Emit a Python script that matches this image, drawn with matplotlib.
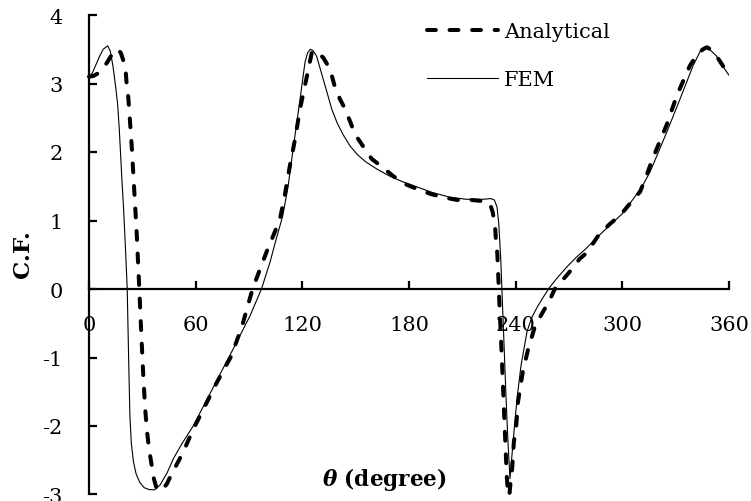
import matplotlib
matplotlib.use("Agg")
import matplotlib.pyplot as plt

# ---- data ----
ana_x = [0, 2.5, 5.2, 8, 10.5, 13, 14.6, 16.5, 18, 19.5, 20.6, 21.2, 22.1, 24, 26.8, 28.3,
         29.5, 30.6, 31.6, 32.6, 33.8, 35.3, 36.5, 38, 39.5, 41, 43.7, 46.5, 50.6, 54, 58.6,
         65, 72, 80, 86, 92, 96.2, 100, 104, 107.4, 110, 113, 116, 118.7, 122.6, 125.4, 127,
         128.5, 131.7, 135.6, 138.4, 141.2, 144, 146.8, 149.6, 154, 159, 165, 171, 178,
         184.5, 191.8, 199, 207, 215, 222.8, 225.5, 227.1, 228.4, 228.9, 229.7, 231, 232.2,
         233.4, 234.2, 235, 235.8, 236.5, 237.2, 238, 239, 240.2, 241.3, 244, 247, 250.9,
         255, 259, 262, 266, 270, 276, 280, 287, 293, 299, 305, 310, 313.5, 317, 321, 325,
         330.6, 338, 342, 345.4, 347.6, 350, 353, 357, 360]
ana_y = [3.10, 3.11, 3.15, 3.22, 3.32, 3.43, 3.48, 3.50, 3.44, 3.32, 3.19, 2.99, 2.80, 2.10,
         0.83, 0.00, -0.70, -1.30, -1.75, -2.07, -2.34, -2.58, -2.77, -2.91, -2.95, -2.93,
         -2.85, -2.70, -2.50, -2.32, -2.05, -1.72, -1.36, -0.98, -0.55, 0.00, 0.29, 0.55,
         0.80, 1.02, 1.35, 1.80, 2.20, 2.63, 3.11, 3.46, 3.48, 3.45, 3.38, 3.21, 2.94, 2.77,
         2.63, 2.45, 2.26, 2.09, 1.90, 1.78, 1.65, 1.53, 1.46, 1.39, 1.34, 1.30, 1.30, 1.28,
         1.25, 1.12, 0.92, 0.71, 0.51, -0.30, -1.00, -1.75, -2.25, -2.74, -3.02, -3.00,
         -2.80, -2.63, -2.23, -2.04, -1.65, -1.21, -0.88, -0.54, -0.35, -0.17, 0.00, 0.12,
         0.24, 0.44, 0.53, 0.80, 0.95, 1.08, 1.27, 1.42, 1.65, 1.90, 2.15, 2.40, 2.82, 3.26,
         3.42, 3.50, 3.53, 3.49, 3.40, 3.24, 3.12]

fem_x = [0, 2, 4, 6, 8, 10.5, 12, 13.5, 15, 16.1, 17, 18.4, 19.5, 20.5, 21.5, 22.2, 23,
         23.8, 25, 26.5, 28.5, 31, 34, 37, 40, 44, 47.4, 52, 58.6, 65, 72, 81, 90.6, 97,
         101.8, 105, 109, 112, 114.8, 118.7, 121.5, 123, 124.5, 126, 128, 131, 133.9, 136.5,
         139.5, 143, 146.8, 151, 156, 162, 169, 176, 184.5, 193, 203, 212, 221.6, 226, 228,
         229.5, 230.5, 231.6, 233, 234.6, 235.8, 236.8, 238, 239.5, 241, 243, 246.4, 249,
         252, 255.5, 259, 263, 268.7, 274, 280, 286, 293, 300, 306, 311, 315.6, 320, 325,
         332.4, 339.8, 344, 346.5, 349, 353, 356, 360]
fem_y = [3.10, 3.16, 3.28, 3.40, 3.50, 3.55, 3.47, 3.25, 2.95, 2.70, 2.35, 1.65, 1.15, 0.60,
         0.00, -0.90, -1.85, -2.25, -2.52, -2.70, -2.82, -2.90, -2.93, -2.93, -2.86, -2.68,
         -2.48, -2.27, -2.00, -1.68, -1.33, -0.88, -0.39, 0.00, 0.39, 0.70, 1.07, 1.50, 2.04,
         2.77, 3.31, 3.45, 3.50, 3.48, 3.40, 3.13, 2.87, 2.63, 2.43, 2.25, 2.09, 1.96, 1.85,
         1.75, 1.65, 1.57, 1.49, 1.41, 1.34, 1.31, 1.31, 1.32, 1.30, 1.20, 0.95, 0.44, -0.50,
         -1.60, -2.30, -2.77, -2.40, -1.95, -1.55, -1.12, -0.62, -0.42, -0.27, -0.12, 0.02,
         0.15, 0.32, 0.46, 0.60, 0.76, 0.93, 1.10, 1.31, 1.49, 1.71, 1.98, 2.29, 2.77, 3.26,
         3.48, 3.53, 3.50, 3.40, 3.27, 3.12]

x_ticks = [0, 60, 120, 180, 240, 300, 360]
y_ticks = [-3, -2, -1, 0, 1, 2, 3, 4]

plt.rcParams['font.family'] = ['DejaVu Serif']
plt.rcParams['mathtext.fontset'] = 'custom'
plt.rcParams['mathtext.it'] = 'DejaVu Serif:italic:bold'
plt.rcParams['mathtext.rm'] = 'DejaVu Serif:bold'

W, H = 751, 502
fig = plt.figure(figsize=(W / 100, H / 100), dpi=100)
ax = fig.add_axes([89 / W, (H - 495.5) / H, 640 / W, (495.5 - 16) / H])

ax.plot(ana_x, ana_y, color='black', lw=2.9, linestyle=(0, (2.2, 3.4)),
        dash_capstyle='round', label='Analytical', clip_on=False)
ax.plot(fem_x, fem_y, color='black', lw=0.8, label='FEM')

ax.set_xlim(0, 360)
ax.set_ylim(-3, 4)
ax.set_xticks(x_ticks)
ax.set_yticks(y_ticks)
ax.set_xticklabels([str(v) for v in x_ticks])
ax.set_yticklabels([str(v) for v in y_ticks])

for s in ['top', 'right']:
    ax.spines[s].set_visible(False)
ax.spines['bottom'].set_position(('data', 0))
for s in ['left', 'bottom']:
    ax.spines[s].set_linewidth(1.6)

ax.tick_params(axis='both', direction='in', length=6, width=1.6, labelsize=15, pad=19)

fig.text(384 / W, 1 - 480 / H, r'$\theta$ (degree)', ha='center', va='center',
         fontsize=15.5, fontweight='bold')
fig.text(23 / W, 1 - 254 / H, 'C.F.', ha='center', va='center', rotation=90,
         fontsize=16.5, fontweight='bold')

leg = ax.legend(loc='upper left', bbox_to_anchor=(427 / W, 1 - 23 / H),
                bbox_transform=fig.transFigure, frameon=False, fontsize=15,
                handlelength=3.4, handletextpad=0.3, labelspacing=1.4,
                borderpad=0, borderaxespad=0)

fig.savefig('out.png', dpi=100)
